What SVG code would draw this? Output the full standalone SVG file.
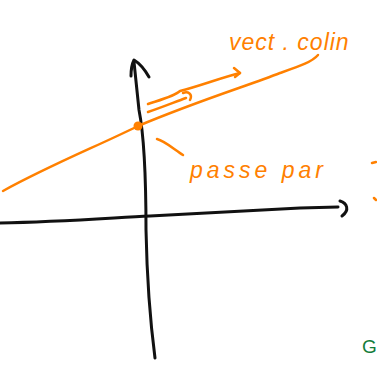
<svg xmlns="http://www.w3.org/2000/svg" width="377" height="371" viewBox="0 0 377 371">
<style>
.k{fill:none;stroke:#111;stroke-width:3;stroke-linecap:round;stroke-linejoin:round}
.o{fill:none;stroke:#ff8000;stroke-width:2.5;stroke-linecap:round;stroke-linejoin:round}
.t{fill:#ff8000;font-family:"Liberation Sans",sans-serif;font-size:23px;font-style:italic}
</style>
<rect width="377" height="371" fill="#fff"/>
<g id="axes">
<path class="k" d="M0,223 C60,222 110,218 150,216 C210,213 260,210 300,208 L338,207"/>
<path class="k" d="M340,201 C347,203 350,210 342,216"/>
<path class="k" d="M155,358 C150,320 147,280 146,230 C146,180 145,140 139,110 L134,62"/>
<path class="k" d="M131,76 C131,68 133,62 134,60 C139,63 145,70 149,77"/>
</g>
<g id="line">
<path class="o" d="M3,191 C50,165 100,145 138,126 C200,100 250,85 280,73 C300,66 312,62 318,55"/>
<circle cx="138" cy="126" r="4.5" fill="#ff8000"/>
</g>
<g id="vector">
<path class="o" d="M148,104 C160,100 175,96 180,91 C200,86 220,78 240,73"/>
<path class="o" d="M234,68 L240,73 L235,77"/>
<path class="o" d="M148,112 C160,108 175,102 186,98"/>
<path class="o" d="M183,93 C188,91 193,94 190,100"/>
</g>
<g id="labels">
<text class="t" x="229" y="50" letter-spacing="1">vect . colin</text>
<path class="o" d="M157,139 C165,141 175,150 183,155"/>
<text class="t" x="190" y="178" letter-spacing="4">passe par</text>
<path class="o" d="M372,163 L376,162"/>
<path class="o" d="M374,198 L376,200"/>
<text x="362" y="353" fill="#137c3a" font-family="Liberation Sans,sans-serif" font-size="19">G</text>
</g>
</svg>
